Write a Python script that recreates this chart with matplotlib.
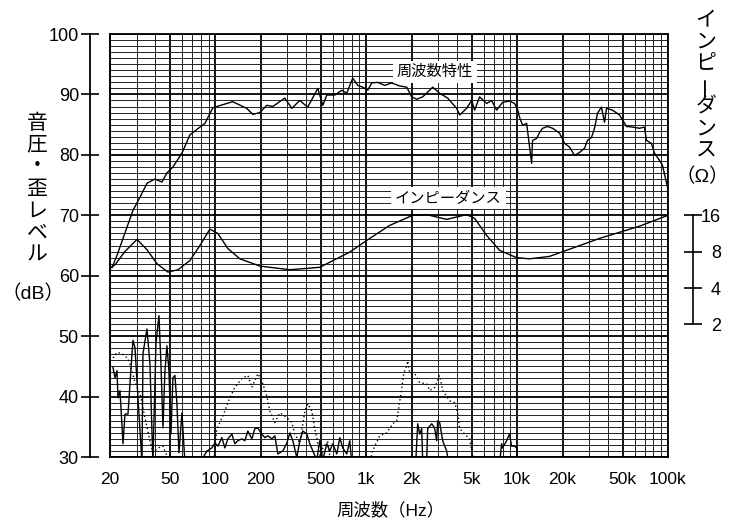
import numpy as np
import matplotlib

matplotlib.use("Agg")
from matplotlib import pyplot as plt
from matplotlib.ticker import FixedLocator, NullLocator

plt.rcParams['font.family'] = ['Liberation Sans', 'Noto Sans CJK JP']

nan = np.nan

# frequency response (Hz, dB)
fr_freq = [20, 20.6, 22.2, 25.9, 28.4, 31.6, 35.2, 39.7, 44.2, 47.7, 52.3, 60, 67.7, 78.9, 85.1,
           96.2, 130, 161, 177, 197, 219, 240, 288, 321, 362, 409, 477, 515, 547, 618, 688,
           742, 813, 878, 948, 1022, 1087, 1191, 1324, 1474, 1666, 1854, 2000, 2158, 2366,
           2553, 2754, 3064, 3460, 3972, 4160, 4627, 4993, 5226, 5638, 6278, 6773, 7308, 8016,
           8916, 9620, 10072, 10376, 10866, 11558, 12474, 12648, 13452, 14088, 14746, 15910,
           17180, 19100, 20620, 22240, 24020, 25920, 27980, 29280, 31120, 32580, 34120, 36220,
           37940, 39120, 42860, 47700, 53100, 58180, 64720, 69820, 71940, 77640, 81280, 87700,
           91840, 100000]
fr_db = [61.5, 61.3, 63.3, 68.0, 70.8, 73.0, 75.3, 76.0, 75.5, 77.0, 78.0, 80.3, 83.3, 84.6, 85.2,
         87.8, 88.8, 87.7, 86.7, 87.0, 88.2, 88.0, 89.4, 87.7, 89.0, 87.9, 91.0, 88.2, 89.9, 89.9,
         90.7, 90.2, 92.7, 91.5, 91.2, 90.7, 91.9, 92.0, 91.5, 91.9, 91.4, 91.2, 89.6, 89.2, 89.6,
         90.4, 91.2, 90.2, 89.4, 87.7, 86.6, 87.7, 89.0, 87.4, 89.6, 88.5, 89.0, 87.4, 88.7,
         88.9, 88.5, 87.5, 86.2, 84.9, 85.2, 78.6, 82.4, 82.7, 83.7, 84.4, 84.7,
         84.4, 83.6, 81.9, 81.3, 79.9, 80.4, 81.1, 82.4, 82.9, 84.4, 86.9, 87.9,
         85.4, 87.7, 87.4, 86.6, 84.7, 84.6, 84.4, 84.6, 82.4, 81.9, 80.3, 79.1,
         78.3, 74.3]

# impedance (Hz, ohm)
imp_freq = [20, 21.6, 25.1, 30.2, 35.2, 40.9, 48.4, 56.4, 67.7, 78.9, 91.9, 103.8, 120.8, 145.2,
            197, 311, 492, 776, 1054, 1430, 2032, 2514, 3410, 4627, 5226, 6278, 7656, 9910,
            12080, 16400, 35160, 64720, 100000]
imp_ohm = [5.87, 6.22, 8.02, 10.1, 8.3, 6.37, 5.42, 5.67, 6.75, 9.0, 12.3, 11.3, 8.5, 6.98,
           6.08, 5.67, 5.94, 7.93, 10.3, 13.2, 16.0, 16.2, 14.8, 16.2, 15.1, 10.9, 8.2, 7.14,
           6.98, 7.31, 10.3, 13.0, 16.0]

# 2nd harmonic distortion (dotted), nan = gap
d2_freq = [20.94, 22.25, 24.01, 26.32, 27.97, 29.28, 31.6, 34.1, 36.8, 38.5, 41.6, 44.9, 47.7, 49.9,
           nan,
           96.2, 102.2, 112.1, 124.6, 134.5, 149.7, 164, 174.4, 191, 203, 219, 229.4, 247.6, 267.3,
           297.4, 320.9, 335.9, 362.5, 391.3, 409.6, 435.3, 455.7, 477, 499.4, 514.8, 555.6, 581.7,
           nan,
           1054, 1087, 1138, 1228, 1366, 1497, 1591, 1640, 1717, 1770, 1853, 1882, 1940, 2094,
           2259, 2514, 2632, 2840, 3064, 3208, 3570, 3853, 4034, 4159, 4487, 4843, 5070, 5227]
d2_db = [46.4, 47.3, 47.1, 46.3, 44.3, 42.3, 40.5, 36.5, 32.7, 30.7, 31.5, 31.8, 30.2, 28.0,
         nan,
         28.0, 34.7, 36.8, 39.8, 41.5, 43.0, 43.5, 41.5, 43.8, 42.6, 40.1, 37.6, 35.7, 37.3,
         36.5, 35.7, 33.8, 32.3, 37.6, 38.8, 37.6, 34.7, 32.2, 29.5, 31.5, 32.5, 29.0,
         nan,
         28.0, 30.7, 31.8, 33.5, 34.0, 35.5, 36.0, 38.1, 41.3, 43.8, 45.1, 45.9, 43.9, 43.8,
         42.3, 42.1, 41.0, 41.5, 43.5, 41.0, 39.3, 39.0, 37.3, 34.7, 33.8, 33.0, 30.2, 28.0]

# 3rd harmonic distortion (solid), nan = gap
d3_freq = [20.94, 21.59, 22.25, 22.59, 23.29, 24.39, 25.14, 26.32, 27.97, 28.4, 29.28, 30.65, 32.58,
           33.08, 35.16, 36.8, 38.5, 40.33, 42.23, 43.53, 44.9, 46.27, 47.7, 49.17, 50.7, 52.26,
           53.88, 55.55, 57.28, 59.97, 62.8,
           nan,
           78.9, 87.8, 94.7, 99.2, 103.8, 110.3, 115.5, 120.9, 128.5, 134.5, 140.8, 149.7, 156.7,
           164, 174.4, 182.5, 191, 203, 212.6, 222.5, 236.5, 247.6, 259.2, 279.7, 297.4, 311.3,
           325.8, 346.3, 362.5, 379.5, 403.3, 422.3, 442.1, 469.8, 491.7, 514.8, 547.2, 572.8,
           599.7, 637.4, 667.4, 698.2, 742.3, 777, 801,
           nan,
           2126, 2191, 2259, 2329, 2365, 2514, 2553, 2713, 2840, 2928, 2973, 3064, 3208, 3410, 3516,
           nan,
           7654, 7889, 8010, 8514, 8896, 9190, 9620, 9917, 10050]
d3_db = [44.8, 43.1, 44.3, 39.8, 41.0, 32.2, 37.1, 37.1, 47.1, 49.3, 48.1, 39.8, 29.0,
         47.1, 51.2, 45.4, 29.0, 48.8, 53.4, 45.4, 34.8, 44.3, 48.4, 44.3, 33.8, 43.1,
         43.5, 38.8, 30.7, 37.3, 29.0,
         nan,
         29.0, 31.0, 31.5, 32.3, 31.8, 33.2, 31.5, 33.0, 33.8, 32.2, 32.7, 33.0, 32.7,
         34.3, 33.0, 34.7, 34.8, 33.8, 33.2, 33.5, 33.0, 33.5, 30.5, 31.0, 32.3, 34.0,
         32.7, 29.9, 32.7, 34.3, 33.8, 32.2, 31.0, 29.5, 32.7, 29.5, 32.2, 31.0,
         32.2, 30.5, 33.2, 31.5, 30.5, 32.7, 29.0,
         nan,
         29.0, 35.5, 33.8, 34.7, 29.5, 29.5, 34.7, 35.5, 34.8, 32.7, 36.0, 35.7, 32.7, 31.0, 29.0,
         nan,
         29.0, 32.2, 31.5, 32.7, 33.8, 31.8, 31.8, 31.5, 29.0]

x_ticks = [20, 50, 100, 200, 500, 1000, 2000, 5000, 10000, 20000, 50000, 100000]
x_tick_labels = ['20', '50', '100', '200', '500', '1k', '2k', '5k', '10k', '20k', '50k', '100k']
imp_ticks = [2, 4, 8, 16]

W, H = 735, 526
fig = plt.figure(figsize=(W / 100, H / 100), dpi=100)
ax = fig.add_axes([110 / W, 1 - 457 / H, 558 / W, 423 / H])
ax.set_xscale('log')
ax.set_xlim(20, 100000)
ax.set_ylim(30, 100)

x_minor = [m * 10 ** e for e in range(1, 5) for m in range(1, 10)
           if m * 10 ** e not in x_ticks and 20 < m * 10 ** e < 100000]
ax.xaxis.set_major_locator(FixedLocator(x_ticks))
ax.xaxis.set_minor_locator(FixedLocator(x_minor))
ax.set_xticklabels(x_tick_labels)
ax.yaxis.set_major_locator(FixedLocator(range(30, 101, 10)))
ax.yaxis.set_minor_locator(FixedLocator([v for v in range(30, 101) if v % 10]))

ax.set_axisbelow(True)
ax.grid(which='major', color='black', lw=1.3)
ax.grid(which='minor', color='#222222', lw=0.7)
ax.axvline(20, color='black', lw=1.4, clip_on=False)

ax.tick_params(axis='x', which='both', length=0, pad=11, labelsize=12.5)
ax.tick_params(axis='y', which='major', direction='inout', length=13, width=1.2,
               pad=1.5, labelsize=13)
ax.tick_params(axis='y', which='minor', length=0)
for s in ax.spines.values():
    s.set_linewidth(1.3)
ax.spines['left'].set_position(('outward', 14.4))

ax.plot(fr_freq, fr_db, color='black', lw=1.0, zorder=3)
ax.plot(d3_freq, d3_db, color='black', lw=1.0, zorder=3)
ax.plot(d2_freq, d2_db, color='black', lw=1.0, ls=(0, (1, 2)), zorder=3)

ax.text(2850, 93.7, '周波数特性', ha='center', va='center', fontsize=11, zorder=6,
        bbox=dict(fc='white', ec='none', pad=3))
ax.text(3500, 72.8, 'インピーダンス', ha='center', va='center', fontsize=11, zorder=6,
        bbox=dict(fc='white', ec='none', pad=3))

# impedance on a log axis: 16 ohm sits at 70 dB, 6 dB per octave
az = ax.twinx()
az.set_yscale('log')
az.set_ylim(16 * 10 ** ((30 - 70) / 20), 16 * 10 ** ((100 - 70) / 20))
az.plot(imp_freq, imp_ohm, color='black', lw=1.0)
for side in ['top', 'bottom', 'left']:
    az.spines[side].set_visible(False)
az.spines['right'].set_position(('outward', 18))
az.spines['right'].set_bounds(2, 16)
az.spines['right'].set_linewidth(1.2)
az.yaxis.set_major_locator(FixedLocator(imp_ticks))
az.yaxis.set_minor_locator(NullLocator())
az.set_yticklabels([str(t) for t in imp_ticks])
az.tick_params(axis='y', direction='inout', length=13, width=1.2, pad=13.5, labelsize=13)
for t in az.get_yticklabels():
    t.set_horizontalalignment('right')

# vertical axis titles, one character per row
for i, ch in enumerate('音圧・歪レベル'):
    fig.text(37 / W, 1 - (123 + 22 * i) / H, ch, ha='center', va='center', fontsize=15)
fig.text(33 / W, 1 - 294 / H, '（dB）', ha='center', va='center', fontsize=14)

for i, ch in enumerate('インピーダンス'):
    fig.text(706 / W, 1 - (20 + 21.8 * i) / H, ch, ha='center', va='center', fontsize=15,
             rotation=90 if ch == 'ー' else 0)
fig.text(702 / W, 1 - 177 / H, '（Ω）', ha='center', va='center', fontsize=14)

fig.text(390 / W, 1 - 510 / H, '周波数（Hz）', ha='center', va='center', fontsize=12.5)

fig.savefig('out.png', dpi=100)
